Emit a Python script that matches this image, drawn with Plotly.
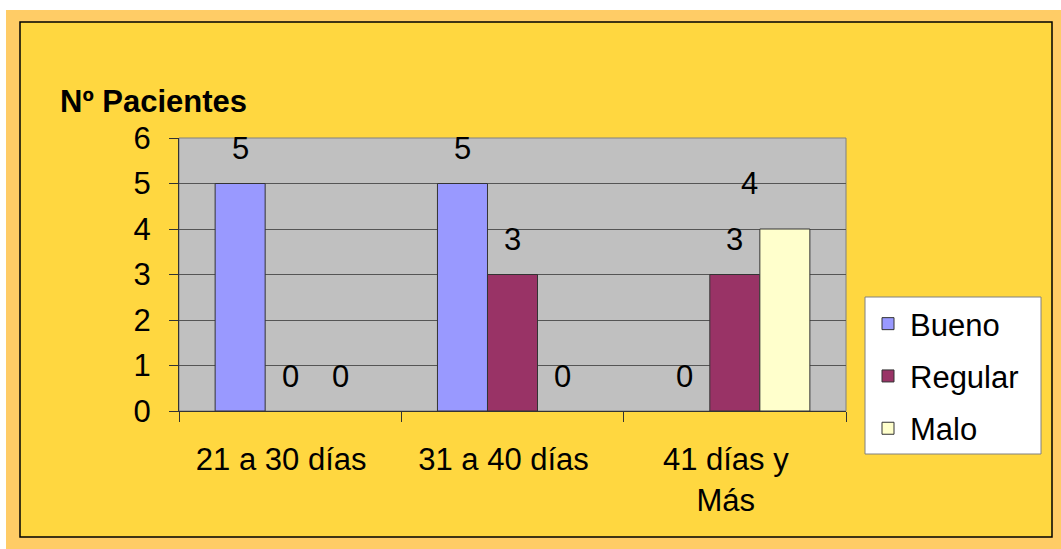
import plotly.graph_objects as go

categories = ["21 a 30 días", "31 a 40 días", "41 días y<br>Más"]
series_names = ["Bueno", "Regular", "Malo"]
bueno = [5, 5, 0]
regular = [0, 3, 3]
malo = [0, 0, 4]
y_ticks = [0, 1, 2, 3, 4, 5, 6]

colors = ["#9999FF", "#993366", "#FFFFCC"]
values = [bueno, regular, malo]

W, H = 1061, 549
L, R, T, B = 179, 846, 138, 411  # plot area pixels

def px(x):
    return (x - L) / (R - L)

def py(y):
    return (B - y) / (B - T)

FONT = "Arial, Liberation Sans, sans-serif"
FS = 31

fig = go.Figure()
for name, vals, col in zip(series_names, values, colors):
    fig.add_trace(go.Bar(
        x=categories, y=[v if v > 0 else None for v in vals], name=name,
        marker=dict(color=col, line=dict(color="#333333", width=1)),
        legendgroup=name,
    ))

# value labels
annotations = []
label_shift = {(2, 2): (15, 46)}  # (series, category) -> (xshift, yshift) override
for si, vals in enumerate(values):
    for ci, v in enumerate(vals):
        xs, ys = label_shift.get((si, ci), ((si - 1) * 50, 35))
        annotations.append(dict(
            x=categories[ci], y=v, xref="x", yref="y",
            text=str(v), showarrow=False,
            xshift=xs, yshift=ys,
            font=dict(size=FS, color="black", family=FONT),
        ))

annotations.append(dict(
    x=px(58), y=py(101), xref="paper", yref="paper",
    xanchor="left", yanchor="middle", showarrow=False,
    text="<b>Nº Pacientes</b>",
    font=dict(size=FS, color="black", family=FONT),
))

shapes = [
    dict(type="rect", xref="paper", yref="paper",
         x0=px(6), x1=px(1061), y0=py(549), y1=py(10),
         fillcolor="#FFCC66", line=dict(width=0), layer="below"),
    dict(type="rect", xref="paper", yref="paper",
         x0=px(20), x1=px(1052), y0=py(537), y1=py(22),
         fillcolor="#FFD740", line=dict(color="black", width=1.5), layer="below"),
    dict(type="rect", xref="paper", yref="paper",
         x0=0, x1=1, y0=0, y1=1,
         fillcolor="#C0C0C0", line=dict(color="#808080", width=1), layer="below"),
    # legend box
    dict(type="rect", xref="paper", yref="paper",
         x0=px(865), x1=px(1041), y0=py(454), y1=py(297),
         fillcolor="white", line=dict(color="#808080", width=1), layer="below"),
]

fig.update_layout(
    width=W, height=H,
    margin=dict(l=L, r=W - R, t=T, b=H - B, pad=0),
    paper_bgcolor="white",
    plot_bgcolor="#C0C0C0",
    barmode="group", bargap=0.325, bargroupgap=0,
    font=dict(family=FONT, size=FS, color="black"),
    showlegend=True,
    legend=dict(
        x=px(866), y=py(297), xanchor="left", yanchor="top",
        bgcolor="rgba(0,0,0,0)", borderwidth=0,
        font=dict(size=FS, family=FONT),
        traceorder="grouped", tracegroupgap=9,
        itemwidth=34,
    ),
    annotations=annotations,
    shapes=shapes,
)
fig.update_xaxes(
    type="category", showgrid=False,
    showline=True, linecolor="#333333", linewidth=1,
    ticks="outside", tickson="boundaries", ticklen=10, tickcolor="#333333",
    ticklabelstandoff=21, ticklabelshift=-9,
    tickfont=dict(size=FS, family=FONT),
)
fig.update_yaxes(
    range=[0, 6], tickvals=y_ticks,
    showgrid=True, gridcolor="#555555", gridwidth=1,
    showline=True, linecolor="#333333", linewidth=1,
    ticks="outside", ticklen=9, tickcolor="#333333",
    ticklabelstandoff=12,
    tickfont=dict(size=FS, family=FONT),
    zeroline=False,
)

fig.write_html("out.html")
